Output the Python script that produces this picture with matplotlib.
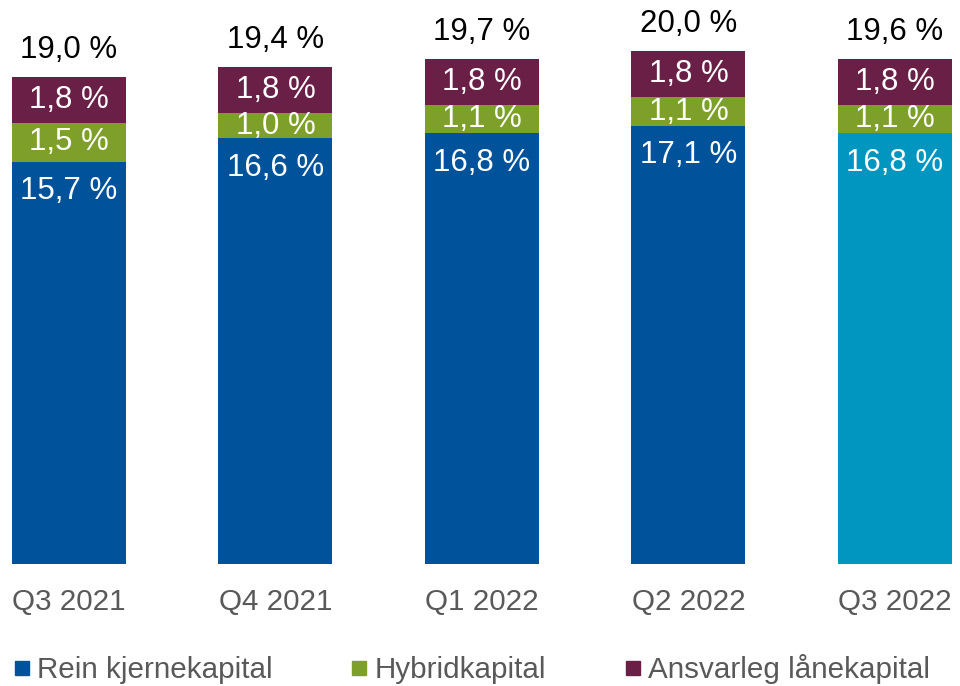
import matplotlib.pyplot as plt
from matplotlib.lines import Line2D

plt.rcParams['font.family'] = ['Liberation Sans', 'DejaVu Sans']

quarters = ["Q3 2021", "Q4 2021", "Q1 2022", "Q2 2022", "Q3 2022"]
rein = [15.7, 16.6, 16.8, 17.1, 16.8]
hybrid = [1.5, 1.0, 1.1, 1.1, 1.1]
ansvarleg = [1.8, 1.8, 1.8, 1.8, 1.8]
totals = [19.0, 19.4, 19.7, 20.0, 19.6]
series_names = ["Rein kjernekapital", "Hybridkapital", "Ansvarleg lånekapital"]

blue = "#00539b"
light_blue = "#0096c0"
green = "#7ea02b"
purple = "#6a2046"
grey = "#595959"


def fmt(v):
    return f"{v:.1f} %".replace(".", ",")


fig = plt.figure(figsize=(9.6, 6.86), dpi=100)
ax = fig.add_axes([0, 122 / 686, 1, 564 / 686])

x = list(range(len(quarters)))
blue_cols = [blue] * (len(x) - 1) + [light_blue]
ax.bar(x, rein, width=0.552, color=blue_cols)
ax.bar(x, hybrid, width=0.552, bottom=rein, color=green)
bottom3 = [r + h for r, h in zip(rein, hybrid)]
ax.bar(x, ansvarleg, width=0.552, bottom=bottom3, color=purple)

fs = 22.5
fs_small = 21.3
for i in x:
    ax.text(i, rein[i] - 1.15, fmt(rein[i]), ha="center", va="center",
            color="white", fontsize=fs)
    ax.text(i, rein[i] + hybrid[i] / 2, fmt(hybrid[i]), ha="center",
            va="center", color="white", fontsize=fs)
    ax.text(i, bottom3[i] + ansvarleg[i] / 2, fmt(ansvarleg[i]),
            ha="center", va="center", color="white", fontsize=fs)
    ax.text(i, bottom3[i] + ansvarleg[i] + 1.05, fmt(totals[i]),
            ha="center", va="center", color="black", fontsize=fs)

ax.set_xlim(-0.334, 4.315)
ax.set_ylim(0, 22)
ax.set_xticks(x)
ax.set_xticklabels(quarters, fontsize=fs_small, color=grey)
ax.tick_params(axis="x", length=0, pad=17)
ax.set_yticks([])
for s in ax.spines.values():
    s.set_visible(False)

handles = [Line2D([], [], marker="s", linestyle="none", markersize=9.4, color=c)
           for c in [blue, green, purple]]
leg = fig.legend(handles, series_names, loc="center left",
                 bbox_to_anchor=(0.015, 1 - 669 / 686), ncol=3, frameon=False,
                 fontsize=fs_small, handlelength=0.5, handletextpad=0.25,
                 columnspacing=2.7, borderaxespad=0, borderpad=0)
for t in leg.get_texts():
    t.set_color(grey)

fig.savefig("out.png")
